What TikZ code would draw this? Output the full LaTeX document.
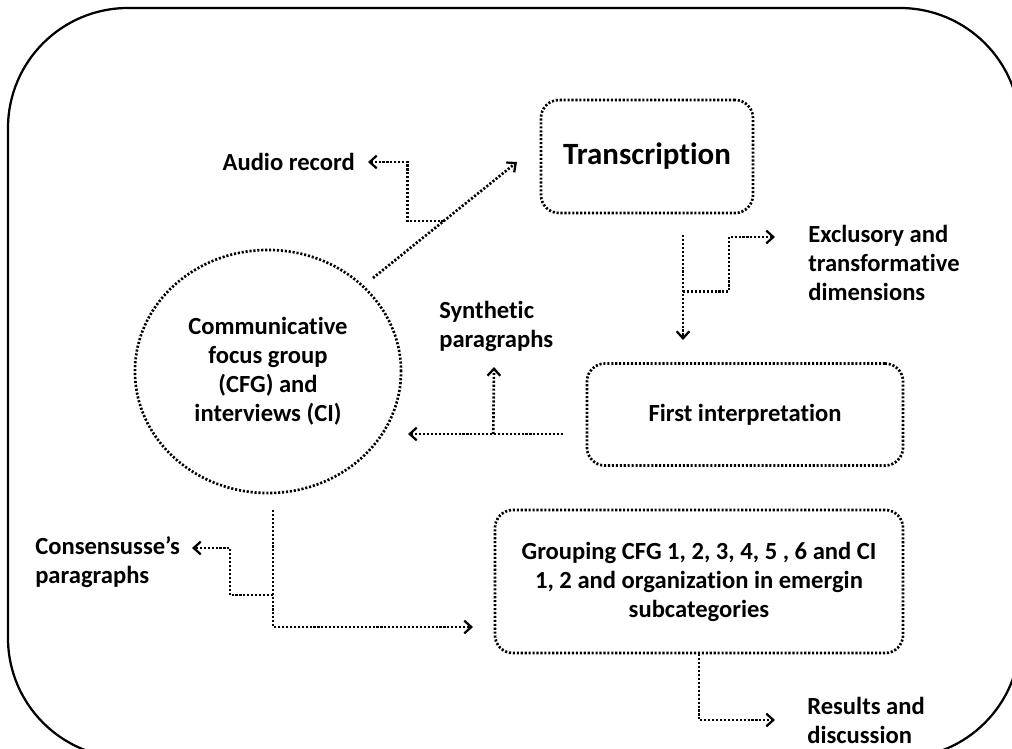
\documentclass[tikz,border=0pt]{standalone}
\usepackage{fontspec}
\setmainfont{Carlito}[Ligatures=NoCommon]
\usetikzlibrary{shapes.geometric,arrows.meta}

\begin{document}
\begin{tikzpicture}[x=0.025cm,y=-0.025cm,
    every node/.style={font=\bfseries\fontsize{17.5}{20.6}\selectfont},
    dots/.style={line width=1.9pt,dash pattern=on 1.5pt off 1.3pt},
    box/.style={draw,dots,rounded corners=0.45cm,align=center},
    circ/.style={draw,ellipse,dots,align=center,
        minimum width=6.65cm,minimum height=6.075cm},
    lbl/.style={align=left,inner sep=0pt},
    flow/.style={dots,-{Straight Barb[length=5pt,width=9pt,line width=1.6pt]}}]
    \useasboundingbox (0,0) rectangle (1012,749);
    \clip (0,0) rectangle (1012,749);
    \draw[line width=1.6pt,rounded corners=3cm] (8,8) rectangle (1020,758);

    % boxes
    \node[circ] (cfg) at (268,371.5) {Communicative\\focus group\\(CFG) and\\interviews (CI)};
    \node[box,minimum width=5.3cm,minimum height=2.825cm,
        font=\bfseries\fontsize{22}{26}\selectfont] (trans) at (647,156.5) {Transcription};
    \node[box,minimum width=7.9cm,minimum height=2.55cm] (first) at (745,414.5) {First interpretation};
    \node[box,minimum width=10.2cm,minimum height=3.575cm] (group) at (699,581.5)
        {Grouping CFG 1, 2, 3, 4, 5 , 6 and CI\\1, 2 and organization in emergin\\subcategories};

    % labels
    \node[lbl,anchor=east] (audio) at (355,162) {Audio record};
    \node[lbl,anchor=west] (excl) at (808,263) {Exclusory and\\transformative\\dimensions};
    \node[lbl,anchor=west] (synth) at (439,326.5) {Synthetic\\paragraphs};
    \node[lbl,anchor=west] (cons) at (35,562.5) {Consensusse's\\paragraphs};
    \node[lbl,anchor=west] (res) at (807,720.5) {Results and\\discussion};

    % connector ends
    \coordinate (cfgout) at (373,278);
    \coordinate (transin) at (517,162);
    \coordinate (audioin) at (368,162);
    \coordinate (transout) at (683,235);
    \coordinate (firstin) at (683,340);
    \coordinate (exclin) at (775,237);
    \coordinate (firstout) at (563,434);
    \coordinate (cfgin) at (408,434);
    \coordinate (synthin) at (494,367);
    \coordinate (cfgdown) at (273,510);
    \coordinate (groupin) at (473,627);
    \coordinate (j4) at (273,595);
    \coordinate (consin) at (192,548);
    \coordinate (resin) at (775,720);

    \draw[flow] (cfgout) -- (transin) coordinate[pos=0.49] (j1);
    \draw[flow] (j1) -- ++(-36,0) |- (audioin);
    \draw[flow] (transout) -- (firstin) coordinate[pos=0.54] (j2);
    \draw[flow] (j2) -- ++(46,0) |- (exclin);
    \draw[flow] (firstout) -- (cfgin) coordinate[pos=0.45] (j3);
    \draw[flow] (j3) -- (synthin);
    \draw[flow] (cfgdown) |- (groupin);
    \draw[flow] (j4) -- ++(-43,0) |- (consin);
    \draw[flow] (group.south) |- (resin);
\end{tikzpicture}
\end{document}
